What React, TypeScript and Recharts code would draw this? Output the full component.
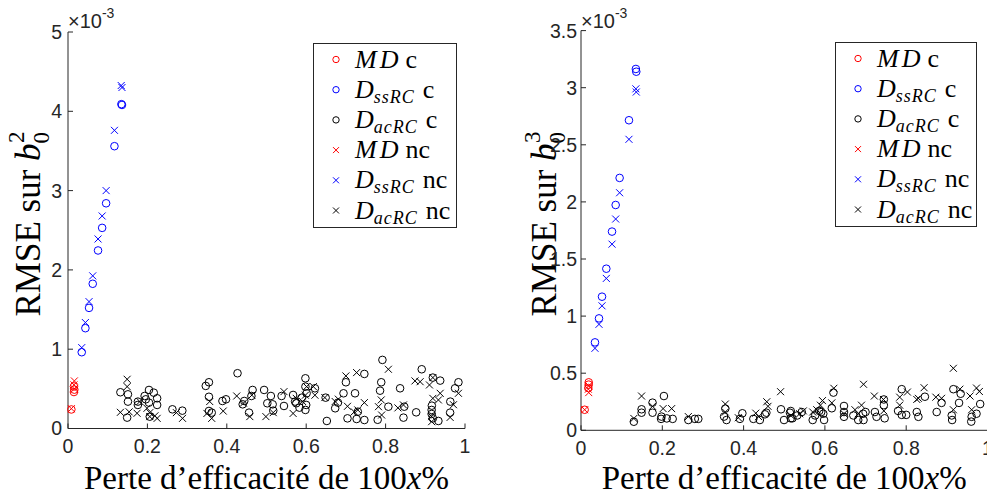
import React from 'react';
import { ScatterChart, Scatter, XAxis, YAxis, Legend, Label, Customized } from 'recharts';

// ---------- data (y values in units of 1e-3) ----------
const xTicks = [0, 0.2, 0.4, 0.6, 0.8, 1];
const leftYTicks = [0, 1, 2, 3, 4, 5];
const rightYTicks = [0, 0.5, 1, 1.5, 2, 2.5, 3, 3.5];
const seriesNames = ['MD c', 'DssRC c', 'DacRC c', 'MD nc', 'DssRC nc', 'DacRC nc'];

const L_MD_C = [[0.0085, 0.24], [0.015, 0.53], [0.016, 0.49], [0.015, 0.46]];
const L_MD_NC = [[0.0085, 0.25], [0.016, 0.6], [0.015, 0.55], [0.016, 0.5]];
const L_SS_C = [[0.0346, 0.962], [0.0438, 1.265], [0.053, 1.521], [0.0623, 1.825], [0.0757, 2.245], [0.086, 2.53], [0.096, 2.84], [0.117, 3.56], [0.1345, 4.09], [0.136, 4.08]];
const L_SS_NC = [[0.0346, 1.02], [0.0438, 1.336], [0.053, 1.6], [0.0623, 1.925], [0.0757, 2.39], [0.086, 2.68], [0.096, 3.0], [0.117, 3.76], [0.134, 4.325], [0.136, 4.3]];
const L_AC_C = [
  [0.132, 0.457], [0.151, 0.431], [0.151, 0.339], [0.149, 0.137], [0.176, 0.339], [0.176, 0.297], [0.196, 0.368], [0.204, 0.486],
  [0.216, 0.452], [0.204, 0.326], [0.2245, 0.381], [0.2245, 0.297], [0.206, 0.149], [0.193, 0.41], [0.263, 0.242], [0.288, 0.225],
  [0.347, 0.537], [0.355, 0.583], [0.355, 0.4], [0.355, 0.221], [0.362, 0.2], [0.389, 0.347], [0.398, 0.368], [0.427, 0.697],
  [0.444, 0.347], [0.44, 0.305], [0.456, 0.2], [0.465, 0.486], [0.462, 0.41], [0.494, 0.486], [0.502, 0.318], [0.511, 0.41],
  [0.5155, 0.305], [0.517, 0.225], [0.544, 0.284], [0.538, 0.41], [0.567, 0.423], [0.572, 0.339], [0.575, 0.318], [0.583, 0.263],
  [0.589, 0.389], [0.598, 0.633], [0.598, 0.528], [0.6, 0.297], [0.598, 0.234], [0.601, 0.444], [0.622, 0.507], [0.649, 0.389],
  [0.652, 0.095], [0.673, 0.255], [0.68, 0.326], [0.694, 0.444], [0.7, 0.583], [0.704, 0.128], [0.723, 0.444], [0.727, 0.12],
  [0.73, 0.212], [0.7465, 0.688], [0.7465, 0.107], [0.78, 0.11], [0.786, 0.477], [0.789, 0.583], [0.792, 0.865], [0.807, 0.275],
  [0.8365, 0.507], [0.845, 0.137], [0.847, 0.275], [0.877, 0.204], [0.891, 0.747], [0.919, 0.642], [0.9375, 0.604], [0.9165, 0.288],
  [0.916, 0.234], [0.916, 0.183], [0.919, 0.128], [0.933, 0.095], [0.9625, 0.2], [0.975, 0.507], [0.9835, 0.583], [0.963, 0.339],
];
const L_AC_NC = [
  [0.149, 0.621], [0.149, 0.528], [0.132, 0.204], [0.154, 0.21], [0.174, 0.192], [0.199, 0.255], [0.206, 0.2], [0.206, 0.15],
  [0.219, 0.16], [0.2245, 0.128], [0.181, 0.34], [0.273, 0.2], [0.2885, 0.128], [0.35, 0.19], [0.357, 0.34], [0.362, 0.128],
  [0.391, 0.22], [0.425, 0.41], [0.442, 0.32], [0.458, 0.15], [0.463, 0.42], [0.4985, 0.15], [0.517, 0.2], [0.544, 0.465],
  [0.567, 0.19], [0.575, 0.38], [0.591, 0.34], [0.598, 0.42], [0.601, 0.528], [0.618, 0.528], [0.622, 0.42], [0.647, 0.39],
  [0.673, 0.34], [0.681, 0.37], [0.7, 0.663], [0.704, 0.28], [0.721, 0.21], [0.727, 0.705], [0.73, 0.234], [0.7465, 0.326],
  [0.782, 0.275], [0.79, 0.17], [0.789, 0.36], [0.807, 0.747], [0.831, 0.26], [0.845, 0.297], [0.874, 0.6], [0.887, 0.59],
  [0.9105, 0.549], [0.916, 0.086], [0.916, 0.15], [0.919, 0.38], [0.933, 0.36], [0.9375, 0.444], [0.9625, 0.14], [0.971, 0.3],
  [0.9835, 0.444], [0.919, 0.642],
];

const R_MD_C = [[0.009, 0.18], [0.019, 0.42], [0.019, 0.4], [0.018, 0.37]];
const R_MD_NC = [[0.009, 0.18], [0.019, 0.33], [0.018, 0.36], [0.019, 0.39]];
const R_SS_C = [[0.0344, 0.77], [0.0443, 0.98], [0.0517, 1.17], [0.0623, 1.415], [0.0763, 1.74], [0.0853, 1.973], [0.095, 2.21], [0.118, 2.715], [0.135, 3.164], [0.136, 3.14]];
const R_SS_NC = [[0.0344, 0.718], [0.0443, 0.928], [0.0517, 1.09], [0.0623, 1.33], [0.0763, 1.63], [0.0853, 1.85], [0.095, 2.08], [0.118, 2.548], [0.135, 2.99], [0.136, 2.962]];
const R_AC_C = [
  [0.13, 0.075], [0.149, 0.184], [0.149, 0.154], [0.176, 0.242], [0.176, 0.154], [0.204, 0.3], [0.198, 0.12], [0.211, 0.104],
  [0.2255, 0.1], [0.197, 0.1], [0.264, 0.09], [0.28, 0.1], [0.2886, 0.1], [0.352, 0.12], [0.358, 0.09], [0.355, 0.19],
  [0.391, 0.1], [0.397, 0.149], [0.424, 0.1], [0.44, 0.09], [0.4526, 0.14], [0.456, 0.154], [0.492, 0.184], [0.4995, 0.09],
  [0.514, 0.154], [0.52, 0.105], [0.516, 0.169], [0.516, 0.105], [0.543, 0.16], [0.532, 0.13], [0.57, 0.09], [0.576, 0.13],
  [0.586, 0.17], [0.591, 0.16], [0.598, 0.09], [0.596, 0.145], [0.617, 0.193], [0.621, 0.33], [0.647, 0.213], [0.647, 0.16],
  [0.647, 0.118], [0.67, 0.13], [0.682, 0.09], [0.694, 0.145], [0.695, 0.09], [0.7, 0.16], [0.723, 0.16], [0.727, 0.118],
  [0.745, 0.22], [0.747, 0.105], [0.745, 0.27], [0.78, 0.17], [0.789, 0.36], [0.789, 0.135], [0.8, 0.135], [0.826, 0.16],
  [0.83, 0.118], [0.846, 0.294], [0.875, 0.16], [0.887, 0.24], [0.912, 0.13], [0.913, 0.09], [0.916, 0.36], [0.93, 0.24],
  [0.934, 0.32], [0.961, 0.118], [0.96, 0.076], [0.973, 0.145], [0.982, 0.23],
];
const R_AC_NC = [
  [0.13, 0.104], [0.149, 0.3], [0.176, 0.21], [0.202, 0.19], [0.223, 0.19], [0.264, 0.12], [0.355, 0.23], [0.355, 0.16],
  [0.387, 0.11], [0.457, 0.25], [0.46, 0.21], [0.491, 0.338], [0.43, 0.15], [0.437, 0.12], [0.516, 0.13], [0.538, 0.145],
  [0.547, 0.17], [0.57, 0.16], [0.58, 0.18], [0.589, 0.22], [0.594, 0.26], [0.617, 0.24], [0.622, 0.368], [0.647, 0.145],
  [0.674, 0.18], [0.682, 0.145], [0.69, 0.22], [0.695, 0.403], [0.7216, 0.3], [0.744, 0.27], [0.745, 0.17], [0.784, 0.22],
  [0.784, 0.29], [0.803, 0.335], [0.826, 0.27], [0.83, 0.28], [0.844, 0.373], [0.873, 0.29], [0.887, 0.28], [0.916, 0.543],
  [0.916, 0.18], [0.932, 0.36], [0.957, 0.3], [0.961, 0.18], [0.973, 0.37], [0.98, 0.34],
];

// ---------- styling ----------
const AX = '#262626';
const RED = '#ff0000';
const BLUE = '#0000ff';
const BLACK = '#000000';
const SANS = '"Liberation Sans", Arial, Helvetica, sans-serif';
const SERIF = '"Liberation Serif", "Times New Roman", serif';

const toPts = (arr: number[][]) => arr.map(([x, y]) => ({ x, y }));

const circleShape = (color: string) => (p: any) =>
  <circle cx={p.cx} cy={p.cy} r={3.8} fill="none" stroke={color} strokeWidth={1} />;
const crossShape = (color: string) => (p: any) => {
  const s = 3.5;
  const { cx, cy } = p;
  return <path d={`M${cx - s},${cy - s}L${cx + s},${cy + s}M${cx - s},${cy + s}L${cx + s},${cy - s}`} stroke={color} strokeWidth={1} fill="none" />;
};

const legendColors = [RED, BLUE, BLACK, RED, BLUE, BLACK];

const LegendLabel = ({ name, x, y }: { name: string; x: number; y: number }) => {
  const [base, suffix] = name.split(' ');
  if (base === 'MD') {
    return (
      <text x={x} y={y} fontFamily={SERIF} fontSize={26} fill="#000">
        <tspan fontStyle="italic" letterSpacing={3}>MD</tspan>
        <tspan dx={4}>{suffix}</tspan>
      </text>
    );
  }
  const sub = base.slice(1);
  return (
    <text x={x} y={y} fontFamily={SERIF} fontSize={26} fill="#000">
      <tspan fontStyle="italic">D</tspan>
      <tspan fontStyle="italic" fontSize={18} dy={5} letterSpacing={1}>{sub}</tspan>
      <tspan dx={8} dy={-5}>{suffix}</tspan>
    </text>
  );
};

const makeLegend = (w: number, h: number) => () => (
  <svg width={w} height={h} style={{ display: 'block' }}>
    <rect x={0.5} y={0.5} width={w - 1} height={h - 1} fill="#fff" stroke={AX} strokeWidth={1} />
    {seriesNames.map((n, i) => {
      const cy = 16.5 + i * 30.2;
      const mx = 23;
      return (
        <g key={n}>
          {i < 3 ? (
            <circle cx={mx} cy={cy} r={3.2} fill="none" stroke={legendColors[i]} strokeWidth={1} />
          ) : (
            <path d={`M${mx - 3},${cy - 3}L${mx + 3},${cy + 3}M${mx - 3},${cy + 3}L${mx + 3},${cy - 3}`} stroke={legendColors[i]} strokeWidth={1} />
          )}
          <LegendLabel name={n} x={42} y={cy + 8} />
        </g>
      );
    })}
  </svg>
);

const XTitle = (props: any) => {
  const vb = props.viewBox;
  const cx = vb.x + vb.width / 2;
  return (
    <text x={cx} y={489} textAnchor="middle" fontFamily={SERIF} fontSize={33} fill="#000">
      Perte d’efficacité de 100<tspan fontStyle="italic">x</tspan>%
    </text>
  );
};

const makeYTitle = (cx: number, sup: string) => () => (
  <text x={0} y={0} transform={`translate(${cx},224) rotate(-90)`} textAnchor="middle" fontFamily={SERIF} fontSize={35} fill="#000">
    RMSE sur <tspan fontStyle="italic">b</tspan>
    <tspan fontSize={23} dy={9}>0</tspan>
    <tspan fontSize={23} dx={-11} dy={-25}>{sup}</tspan>
  </text>
);

const Exponent = ({ x }: { x: number }) => (
  <text x={x} y={28} fontFamily={SANS} fontSize={20} fill={AX}>
    ×10<tspan fontSize={14} dy={-10}>-3</tspan>
  </text>
);

const fmtX = (v: number) => String(v);

type PanelProps = {
  left: number;
  width: number;
  yAxisWidth: number;
  marginTop: number;
  marginBottom: number;
  marginRight: number;
  yMax: number;
  yTicks: number[];
  yTickMargin: number;
  data: number[][][];
  legendLeft: number;
  legendTop: number;
  legendW: number;
  legendH: number;
  titleX: number;
  sup: string;
  expX: number;
};

const Panel = (p: PanelProps) => {
  const [mdc, ssc, acc, mdnc, ssnc, acnc] = p.data;
  return (
    <div style={{ position: 'absolute', left: p.left, top: 0 }}>
      <ScatterChart
        width={p.width}
        height={497}
        margin={{ top: p.marginTop, right: p.marginRight, bottom: p.marginBottom, left: 0 }}
      >
        <XAxis
          xAxisId="b"
          type="number"
          dataKey="x"
          domain={[0, 1]}
          ticks={xTicks}
          tickFormatter={fmtX}
          height={60}
          tickSize={-5}
          tickMargin={16}
          stroke={AX}
          tick={{ fill: AX, fontSize: 19.5, fontFamily: SANS }}
          axisLine={{ stroke: AX }}
          tickLine={{ stroke: AX }}
          interval={0}
        >
          <Label content={XTitle} />
        </XAxis>
        <XAxis
          xAxisId="t"
          orientation="top"
          type="number"
          dataKey="x"
          domain={[0, 1]}
          ticks={xTicks}
          height={0}
          tickSize={-5}
          tick={false}
          axisLine={{ stroke: AX }}
          tickLine={{ stroke: AX }}
          interval={0}
        />
        <YAxis
          yAxisId="l"
          type="number"
          dataKey="y"
          domain={[0, p.yMax]}
          ticks={p.yTicks}
          width={p.yAxisWidth}
          tickSize={-5}
          tickMargin={p.yTickMargin}
          tick={{ fill: AX, fontSize: 19.5, fontFamily: SANS }}
          axisLine={{ stroke: AX }}
          tickLine={{ stroke: AX }}
          interval={0}
        />
        <YAxis
          yAxisId="r"
          orientation="right"
          type="number"
          dataKey="y"
          domain={[0, p.yMax]}
          ticks={p.yTicks}
          width={0}
          tickSize={-5}
          tick={false}
          axisLine={{ stroke: AX }}
          tickLine={{ stroke: AX }}
          interval={0}
        />
        <Scatter xAxisId="b" yAxisId="l" name={seriesNames[0]} data={toPts(mdc)} shape={circleShape(RED)} isAnimationActive={false} />
        <Scatter xAxisId="b" yAxisId="l" name={seriesNames[1]} data={toPts(ssc)} shape={circleShape(BLUE)} isAnimationActive={false} />
        <Scatter xAxisId="b" yAxisId="l" name={seriesNames[2]} data={toPts(acc)} shape={circleShape(BLACK)} isAnimationActive={false} />
        <Scatter xAxisId="b" yAxisId="l" name={seriesNames[3]} data={toPts(mdnc)} shape={crossShape(RED)} isAnimationActive={false} />
        <Scatter xAxisId="b" yAxisId="l" name={seriesNames[4]} data={toPts(ssnc)} shape={crossShape(BLUE)} isAnimationActive={false} />
        <Scatter xAxisId="b" yAxisId="l" name={seriesNames[5]} data={toPts(acnc)} shape={crossShape(BLACK)} isAnimationActive={false} />
        <Legend
          layout="horizontal"
          verticalAlign="middle"
          align="center"
          content={makeLegend(p.legendW, p.legendH)}
          wrapperStyle={{ left: p.legendLeft, top: p.legendTop, width: p.legendW, height: p.legendH }}
        />
        <Customized component={makeYTitle(p.titleX, p.sup)} />
        <Customized component={() => <Exponent x={p.expX} />} />
      </ScatterChart>
    </div>
  );
};

export default function App() {
  return (
    <div style={{ position: 'absolute', left: 0, top: 0, width: 987, height: 497, overflow: 'hidden', background: '#fff' }}>
      <Panel
        left={0}
        width={475}
        yAxisWidth={68}
        marginTop={32}
        marginBottom={8.5}
        marginRight={10}
        yMax={5}
        yTicks={leftYTicks}
        yTickMargin={11}
        data={[L_MD_C, L_SS_C, L_AC_C, L_MD_NC, L_SS_NC, L_AC_NC]}
        legendLeft={313}
        legendTop={43}
        legendW={144}
        legendH={185}
        titleX={40}
        sup="2"
        expX={68}
      />
      <Panel
        left={490}
        width={497.5}
        yAxisWidth={91}
        marginTop={30.6}
        marginBottom={6.7}
        marginRight={0}
        yMax={3.5}
        yTicks={rightYTicks}
        yTickMargin={9}
        data={[R_MD_C, R_SS_C, R_AC_C, R_MD_NC, R_SS_NC, R_AC_NC]}
        legendLeft={345}
        legendTop={42}
        legendW={142}
        legendH={185}
        titleX={66}
        sup="3"
        expX={91}
      />
    </div>
  );
}
